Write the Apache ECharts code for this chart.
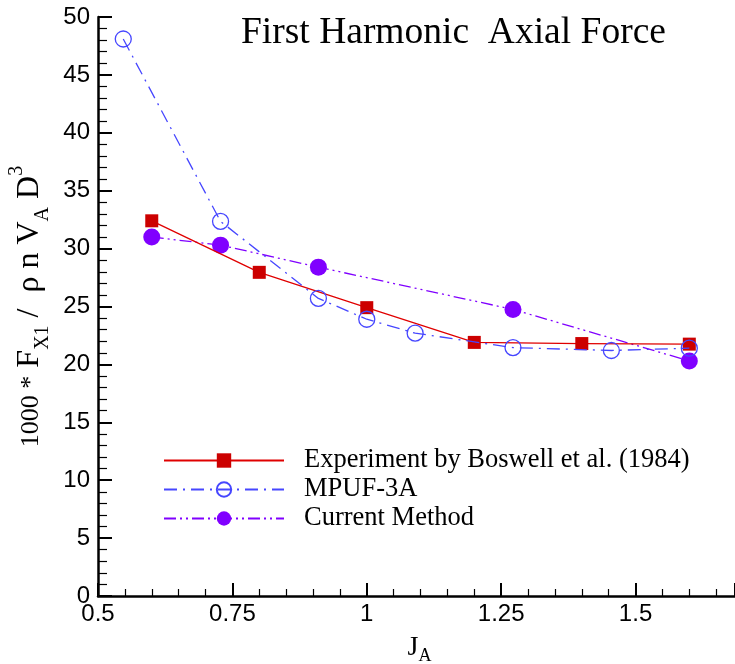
<!DOCTYPE html>
<html>
<head>
<meta charset="utf-8">
<script src="https://cdn.jsdelivr.net/npm/echarts@6/dist/echarts.min.js"></script>
<style>
  html, body { margin: 0; padding: 0; background: #fff; overflow: hidden; }
  #chart { width: 735px; height: 664px; }
</style>
</head>
<body>
<div id="chart"></div>
<script>
// Advance ratio J_A and first-harmonic axial force coefficient for each data set
const expJ  = [0.6, 0.8, 1.0, 1.2, 1.4, 1.6];
const expF  = [32.4, 27.95, 24.9, 21.9, 21.8, 21.75];

const mpufJ = [0.547, 0.728, 0.91, 1.0, 1.09, 1.272, 1.455, 1.6];
const mpufF = [48.1, 32.35, 25.7, 23.9, 22.7, 21.45, 21.2, 21.4];

const curJ  = [0.6, 0.728, 0.91, 1.272, 1.6];
const curF  = [31.0, 30.3, 28.4, 24.75, 20.3];

const seriesNames = ['Experiment by Boswell et al. (1984)', 'MPUF-3A', 'Current Method'];
const xTicks = [0.5, 0.75, 1, 1.25, 1.5];

const pairs = (xs, ys) => xs.map((x, i) => [x, ys[i]]);

const serif = '"Liberation Serif", "Times New Roman", serif';
const sans = '"Liberation Sans", Arial, sans-serif';

const chart = echarts.init(document.getElementById('chart'), null, { renderer: 'canvas' });

chart.setOption({
  animation: false,
  backgroundColor: '#fff',
  title: {
    text: 'First Harmonic  Axial Force',
    left: 236,
    top: 9,
    textStyle: { fontFamily: serif, fontSize: 37.5, fontWeight: 'normal', color: '#000' }
  },
  grid: { left: 98, right: 0, top: 17, bottom: 68, containLabel: false, outerBoundsMode: 'none' },
  legend: {
    orient: 'vertical',
    left: 158,
    top: 442,
    itemWidth: 120,
    itemHeight: 18,
    itemGap: 2,
    data: seriesNames,
    textStyle: { fontFamily: serif, fontSize: 26.5, color: '#000', padding: [0, 0, 0, 15] }
  },
  xAxis: {
    type: 'value',
    min: 0.5,
    max: 1.685,
    interval: 0.25,
    name: 'J{sub|A}',
    nameLocation: 'middle',
    nameGap: 42,
    nameTextStyle: {
      fontFamily: serif, fontSize: 28, color: '#000', lineHeight: 34, verticalAlign: 'middle',
      padding: [0, 0, 0, 6],
      rich: {
        sub: { fontFamily: serif, fontSize: 18, lineHeight: 16, verticalAlign: 'bottom', color: '#000' }
      }
    },
    axisLine: { lineStyle: { color: '#000', width: 2.5 } },
    axisTick: { inside: true, length: 13, lineStyle: { color: '#000', width: 2 } },
    minorTick: { show: true, splitNumber: 5, length: 7, lineStyle: { color: '#000', width: 1.2 } },
    splitLine: { show: false },
    axisLabel: {
      margin: 6,
      fontFamily: sans, fontSize: 24, color: '#000',
      formatter: v => xTicks.some(t => Math.abs(t - v) < 1e-6) ? String(v) : ''
    }
  },
  yAxis: {
    type: 'value',
    min: 0,
    max: 50,
    interval: 5,
    name: '{num|1000 *} F{sub|X1} /  ρ n V{sub|A} D{sup|3}',
    nameLocation: 'middle',
    nameGap: 59,
    nameTextStyle: {
      fontFamily: serif, fontSize: 32, color: '#000', lineHeight: 46, verticalAlign: 'middle',
      rich: {
        num: { fontFamily: serif, fontSize: 26, lineHeight: 46, verticalAlign: 'middle', color: '#000', padding: [4, 0, 0, 0] },
        sub: { fontFamily: serif, fontSize: 20, lineHeight: 20, verticalAlign: 'bottom', color: '#000' },
        sup: { fontFamily: serif, fontSize: 20, lineHeight: 20, verticalAlign: 'top', color: '#000' }
      }
    },
    axisLine: { lineStyle: { color: '#000', width: 2.5 } },
    axisTick: { inside: true, length: 14, lineStyle: { color: '#000', width: 2 } },
    minorTick: { show: true, splitNumber: 5, length: 9, lineStyle: { color: '#000', width: 1.2 } },
    splitLine: { show: false },
    axisLabel: { margin: 8, fontFamily: sans, fontSize: 24, color: '#000' }
  },
  series: [
    {
      name: seriesNames[0],
      type: 'line',
      data: pairs(expJ, expF),
      symbol: 'rect',
      symbolSize: 13,
      lineStyle: { color: '#e00000', width: 1.3, type: 'solid' },
      itemStyle: { color: '#cc0000' },
      z: 3
    },
    {
      name: seriesNames[1],
      type: 'line',
      data: pairs(mpufJ, mpufF),
      symbol: 'circle',
      symbolSize: 16,
      lineStyle: { color: '#4646ff', width: 1.3, type: [13, 6, 2, 6] },
      itemStyle: { color: 'rgba(255,255,255,0)', borderColor: '#4646ff', borderWidth: 1.3 },
      z: 4
    },
    {
      name: seriesNames[2],
      type: 'line',
      data: pairs(curJ, curF),
      symbol: 'circle',
      symbolSize: 17,
      lineStyle: { color: '#8000ff', width: 1.3, type: [12, 4, 2, 4, 2, 4] },
      itemStyle: { color: '#8000ff' },
      z: 2
    }
  ]
});
</script>
</body>
</html>
